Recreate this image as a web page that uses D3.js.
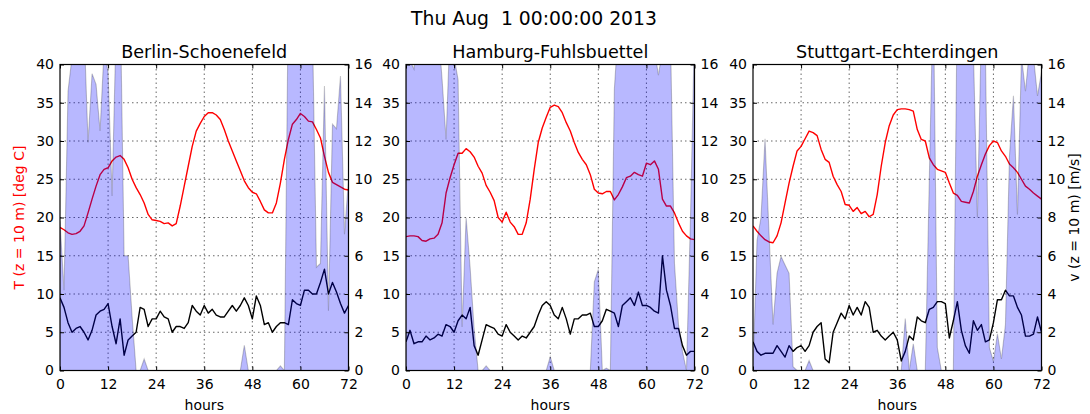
<!DOCTYPE html>
<html>
<head>
<meta charset="utf-8">
<script src="https://cdn.jsdelivr.net/npm/d3@7"></script>
<style>
  body { margin: 0; background: #fff; }
  svg { display: block; }
  text { font-family: "DejaVu Sans", sans-serif; }
</style>
</head>
<body>
<svg id="chart" width="1090" height="414"></svg>
<script>
// ---- data: hourly values over 72 h starting Thu Aug 1 2013 ----
const runStart = "Thu Aug  1 00:00:00 2013";
const stations = ["Berlin-Schoenefeld", "Hamburg-Fuhlsbuettel", "Stuttgart-Echterdingen"];
const hours = d3.range(0, 73);

// air temperature at 10 m [deg C]
const tempBerlin = [18.7,18.4,18.0,17.8,17.9,18.2,18.9,20.6,22.4,24.1,
  25.6,26.3,26.5,27.4,27.9,28.1,27.6,26.5,25.0,23.9,
  23.0,21.9,20.4,19.7,19.6,19.5,19.2,19.3,18.9,19.2,
  21.5,24.1,26.7,29.3,31.3,32.3,33.2,33.7,33.7,33.4,
  32.8,31.5,30.0,28.7,27.4,26.1,24.8,23.9,23.3,23.1,
  22.1,21.0,20.6,20.6,21.9,24.5,27.6,30.2,32.2,32.8,
  33.6,33.2,32.6,32.5,31.5,30.4,28.0,25.9,24.6,24.3,
  24.0,23.7,23.6];
const tempHamburg = [17.5,17.6,17.6,17.5,17.0,16.9,17.2,17.3,17.8,19.3,
  23.2,25.2,26.9,28.4,28.4,29.0,28.6,27.9,26.7,25.8,
  24.2,23.3,22.2,20.0,19.4,20.7,19.4,18.8,17.8,17.8,
  19.3,22.4,26.3,29.8,31.7,33.1,34.4,34.7,34.5,33.7,
  32.4,31.3,29.8,28.5,27.6,26.9,25.6,23.7,23.2,23.1,
  23.4,23.4,22.3,23.0,24.0,25.2,25.4,25.9,25.6,25.4,
  27.1,26.9,27.4,26.3,22.4,21.5,21.5,20.6,19.3,18.2,
  17.6,17.2,17.1];
const tempStuttgart = [18.9,18.2,17.6,17.1,16.8,16.7,17.6,19.3,21.9,24.5,
  26.7,28.7,29.3,30.3,31.3,31.1,30.7,28.9,27.6,27.2,
  25.4,24.3,23.4,21.7,21.6,20.8,21.3,20.5,20.8,20.1,
  20.4,23.0,26.7,29.8,32.0,33.4,34.1,34.2,34.2,34.1,
  33.9,31.5,30.2,30.0,27.8,26.9,26.3,26.1,25.9,24.5,
  23.2,22.9,22.1,22.0,21.9,23.4,25.4,26.9,28.3,29.4,
  30.0,29.8,28.7,28.0,27.0,26.5,25.9,25.0,24.1,23.7,
  23.2,22.8,22.4];

// wind speed at 10 m [m/s]
const windBerlin = [3.8,3.3,2.5,2.0,2.2,2.3,2.0,1.6,2.1,2.9,
  3.1,3.2,3.5,2.3,1.4,2.7,0.8,1.6,1.8,2.0,
  3.3,3.2,2.3,2.7,2.7,3.1,2.8,2.7,2.0,2.3,
  2.3,2.2,2.5,3.4,3.1,2.9,3.4,3.0,3.2,2.9,
  2.8,2.8,3.1,3.4,3.1,3.4,3.8,3.4,2.7,3.9,
  3.4,2.4,2.5,2.0,2.3,2.5,2.5,2.4,3.7,3.5,
  3.4,4.2,4.2,4.0,4.0,4.6,5.3,4.0,4.6,4.1,
  3.5,3.0,3.4];
const windHamburg = [1.5,2.1,1.4,1.5,1.5,1.8,1.6,1.7,1.9,1.8,
  2.4,2.3,2.0,2.6,2.9,2.7,3.3,1.3,0.8,1.6,
  2.4,2.3,2.2,1.9,1.8,2.4,2.0,1.8,1.6,1.8,
  1.7,2.0,2.3,2.9,3.4,3.6,3.4,2.9,2.7,3.3,
  2.7,1.9,2.7,2.7,2.9,2.9,3.0,2.3,2.3,2.6,
  3.2,3.1,3.0,2.3,3.4,3.6,3.8,3.4,4.1,3.4,
  3.4,3.3,3.1,3.0,6.0,4.2,3.4,2.2,2.2,1.3,
  0.8,1.0,1.0];
const windStuttgart = [1.5,1.0,0.8,0.9,0.9,0.9,1.3,1.0,0.7,1.3,
  1.0,1.2,1.3,1.0,1.3,2.0,2.3,2.5,0.6,0.4,
  2.0,2.5,3.0,2.7,3.4,2.9,3.3,2.9,3.6,3.3,
  2.0,2.1,1.8,1.6,1.8,2.0,1.6,0.5,1.0,1.8,
  1.6,2.8,2.6,2.5,3.2,3.3,3.6,3.6,3.5,1.7,
  2.6,3.6,2.1,1.3,0.9,2.6,2.1,2.4,1.5,1.6,
  2.5,3.7,3.7,4.2,3.9,3.9,3.3,2.9,1.8,1.8,
  1.9,2.8,2.0];

// cloud cover, shaded on the temperature scale (values above 40 run off the top)
const cloudBerlin = [19.5,10.5,36.5,41,50,50,45,29.8,38.8,37.4,
  31.3,42,39,22.8,45,50,15,15,7,0,
  0,1.5,0,0,0,0,0,0,0,0,
  0,0,0,0,0,0,0,0,0,0,
  0,0,0,0,0,0,3.3,0,0,0,
  0,0,0,0,0,0.6,0,50,50,50,
  50,50,50,45,13.5,14,37.2,7.8,32.2,31.6,
  38.5,17.8,25];
const cloudHamburg = [41,40.5,39.4,45,50,50,50,50,45,38.1,
  30.2,45,41,38,5.7,20,13.5,5.5,0,0,
  0.6,0,0,0,0,0,0,0,0,0,
  0,0,0,0,0,0,1.8,0,0,0,
  0,0,0,0,0,0,0,11.6,13.2,0,
  0.3,0,36.8,45,50,50,50,50,50,50,
  50,45,42,38.6,42,45,44,14,6,2.5,
  0,20,45];
const cloudStuttgart = [0,17,20,30.3,18,6,12.7,14.9,13.8,12.7,
  0.5,0,0,0,1.3,0,0,0,0,0,
  0,0,0,0,0,0,0,0,0,0,
  0,0,0,0,0,0,0,0,6.8,0,
  3.5,0,0,0,25,50,3,0,0,0,
  0,50,50,50,50,42,20,45,42,3,
  1.2,4.8,1.5,6,28,35.9,20.4,41,36.5,42,
  41,35.9,39];

const hourTicks = [0, 12, 24, 36, 48, 60, 72];
const tempTicks = [0, 5, 10, 15, 20, 25, 30, 35, 40];
const windTicks = [0, 2, 4, 6, 8, 10, 12, 14, 16];

const tempSeries = [tempBerlin, tempHamburg, tempStuttgart];
const windSeries = [windBerlin, windHamburg, windStuttgart];
const cloudSeries = [cloudBerlin, cloudHamburg, cloudStuttgart];

// ---- layout ----
const svg = d3.select("#chart");
const panelLeft = [60, 406, 753];
const panelW = 288.5, plotTop = 64.5, plotBottom = 370.5;

svg.append("text")
  .attr("x", 534).attr("y", 25)
  .attr("text-anchor", "middle")
  .style("font-size", "18.8px")
  .style("white-space", "pre")
  .attr("xml:space", "preserve")
  .text(runStart);

stations.forEach((name, i) => {
  const x0 = panelLeft[i], x1 = x0 + panelW;
  const x = d3.scaleLinear().domain([0, 72]).range([x0, x1]);
  const yT = d3.scaleLinear().domain([0, 40]).range([plotBottom, plotTop]);
  const yV = d3.scaleLinear().domain([0, 16]).range([plotBottom, plotTop]);

  const g = svg.append("g");
  const clipId = "clip" + i;
  svg.append("clipPath").attr("id", clipId)
    .append("rect").attr("x", x0).attr("y", plotTop)
    .attr("width", panelW).attr("height", plotBottom - plotTop);

  // dotted grid
  const grid = g.append("g")
    .attr("stroke", "#000").attr("stroke-width", 0.8)
    .attr("stroke-dasharray", "1.5,3").attr("stroke-opacity", 0.75);
  grid.selectAll(".gx").data(hourTicks.slice(1, -1)).join("line")
    .attr("x1", d => x(d)).attr("x2", d => x(d))
    .attr("y1", plotTop).attr("y2", plotBottom);
  grid.selectAll(".gy").data(tempTicks.slice(1, -1)).join("line")
    .attr("x1", x0).attr("x2", x1)
    .attr("y1", d => yT(d)).attr("y2", d => yT(d));

  const plot = g.append("g").attr("clip-path", `url(#${clipId})`);

  // temperature (left axis)
  plot.append("path")
    .datum(tempSeries[i])
    .attr("fill", "none").attr("stroke", "#ff0000").attr("stroke-width", 1.4)
    .attr("stroke-linejoin", "round")
    .attr("d", d3.line().x((d, k) => x(hours[k])).y(d => yT(d)));

  // wind speed (right axis)
  plot.append("path")
    .datum(windSeries[i])
    .attr("fill", "none").attr("stroke", "#000").attr("stroke-width", 1.4)
    .attr("stroke-linejoin", "round")
    .attr("d", d3.line().x((d, k) => x(hours[k])).y(d => yV(d)));

  // cloud shading on top
  plot.append("path")
    .datum(cloudSeries[i])
    .attr("fill", "#0000ff").attr("fill-opacity", 0.28)
    .attr("stroke", "#000").attr("stroke-opacity", 0.22).attr("stroke-width", 1.1)
    .attr("d", d3.area().x((d, k) => x(hours[k])).y0(yT(0)).y1(d => yT(d)));

  // axes with inward ticks
  const axL = g.append("g").attr("transform", `translate(${x0},0)`)
    .call(d3.axisLeft(yT).tickValues(tempTicks).tickSize(-4).tickPadding(6).tickFormat(d3.format("d")));
  const axR = g.append("g").attr("transform", `translate(${x1},0)`)
    .call(d3.axisRight(yV).tickValues(windTicks).tickSize(-4).tickPadding(6).tickFormat(d3.format("d")));
  const axB = g.append("g").attr("transform", `translate(0,${plotBottom})`)
    .call(d3.axisBottom(x).tickValues(hourTicks).tickSize(-4).tickPadding(8.5).tickFormat(d3.format("d")));
  const axT = g.append("g").attr("transform", `translate(0,${plotTop})`)
    .call(d3.axisTop(x).tickValues(hourTicks).tickSize(-4).tickFormat(""));
  [axL, axR, axB, axT].forEach(a => {
    a.select(".domain").remove();
    a.selectAll("text").style("font-size", "14px").attr("fill", "#000");
    a.selectAll("line").attr("stroke", "#000");
  });

  // frame
  g.append("rect")
    .attr("x", x0).attr("y", plotTop).attr("width", panelW).attr("height", plotBottom - plotTop)
    .attr("fill", "none").attr("stroke", "#000").attr("stroke-width", 1.2);

  // titles
  g.append("text")
    .attr("x", (x0 + x1) / 2).attr("y", 57.5)
    .attr("text-anchor", "middle").style("font-size", "17.6px")
    .text(name);
  g.append("text")
    .attr("x", (x0 + x1) / 2).attr("y", 410)
    .attr("text-anchor", "middle").style("font-size", "14px")
    .text("hours");

  if (i === 0) {
    g.append("text")
      .attr("transform", `translate(24,${(plotTop + plotBottom) / 2}) rotate(-90)`)
      .attr("text-anchor", "middle").attr("fill", "#ff0000")
      .style("font-size", "14px")
      .text("T (z = 10 m) [deg C]");
  }
  if (i === 2) {
    g.append("text")
      .attr("transform", `translate(1079,${(plotTop + plotBottom) / 2}) rotate(-90)`)
      .attr("text-anchor", "middle").attr("fill", "#000")
      .style("font-size", "14px")
      .text("v (z = 10 m) [m/s]");
  }
});
</script>
</body>
</html>
